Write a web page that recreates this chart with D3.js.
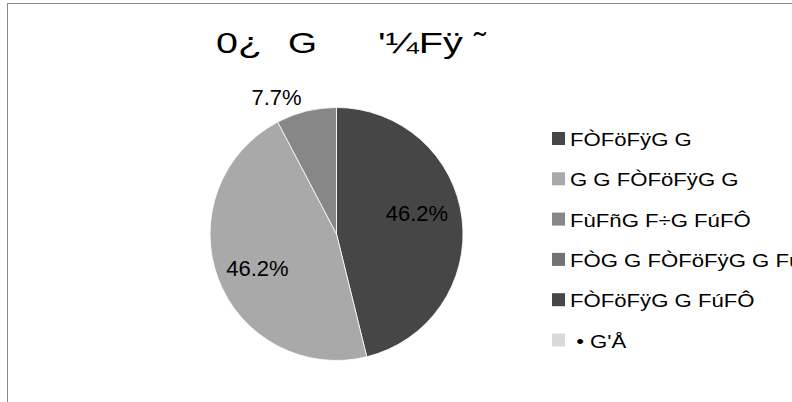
<!DOCTYPE html>
<html>
<head>
<meta charset="utf-8">
<script src="https://cdn.jsdelivr.net/npm/d3@7"></script>
<style>
  html, body { margin: 0; padding: 0; background: #fff; overflow: hidden; }
  svg { display: block; font-family: "Liberation Sans", Arial, sans-serif; }
</style>
</head>
<body>
<svg id="chart" width="792" height="402"></svg>
<script>
const titleParts = ["0\u00BF", "G", "'\u00BCF\u00FF", "\u02DC"];
const categories = [
  "F\u00D2F\u00F6F\u00FFG G",
  "G G F\u00D2F\u00F6F\u00FFG G",
  "F\u00F9F\u00F1G F\u00F7G F\u00FAF\u00D4",
  "F\u00D2G G F\u00D2F\u00F6F\u00FFG G F\u00FAF\u00D4",
  "F\u00D2F\u00F6F\u00FFG G F\u00FAF\u00D4",
  "\u00A0\u2022 G'\u00C5"
];
const values = [6, 6, 1, 0, 0, 0];
const colors = ["#464646", "#a9a9a9", "#878787", "#737373", "#464646", "#d9d9d9"];

const svg = d3.select("#chart");
const W = 792, H = 402;

// chart area border (extends past the right / bottom edges)
svg.append("rect")
  .attr("x", 7.5).attr("y", 3.5)
  .attr("width", W).attr("height", H)
  .attr("fill", "#fff").attr("stroke", "#8a8a8a").attr("stroke-width", 1);

// title (horizontally stretched like the reference)
const titleX = [216, 288, 378, 474];
const titleLen = [46, 29, 85, 12];
const t = svg.append("text")
  .attr("y", 53)
  .attr("font-size", 29)
  .attr("fill", "#000");
t.selectAll("tspan")
  .data(titleParts)
  .join("tspan")
  .attr("x", (d, i) => titleX[i])
  .attr("textLength", (d, i) => titleLen[i])
  .attr("lengthAdjust", "spacingAndGlyphs")
  .text(d => d);

// pie
const cx = 336.5, cy = 234, R = 126.5;
const total = d3.sum(values);
const pie = d3.pie().sort(null).value(d => d)(values);
const arc = d3.arc().innerRadius(0).outerRadius(R);
const g = svg.append("g").attr("transform", `translate(${cx},${cy})`);

g.selectAll("path.slice")
  .data(pie.filter(d => d.value > 0))
  .join("path")
  .attr("class", "slice")
  .attr("d", arc)
  .attr("fill", d => colors[d.index])
  .attr("stroke", "#fff")
  .attr("stroke-width", 0.8);

const fmt = v => (v / total * 100).toFixed(1) + "%";
g.selectAll("text.lbl")
  .data(pie.filter(d => d.value > 0))
  .join("text")
  .attr("class", "lbl")
  .attr("font-size", 22)
  .attr("text-anchor", "middle")
  .attr("fill", "#000")
  .each(function(d) {
    const share = d.value / total;
    const mid = (d.startAngle + d.endAngle) / 2;
    let r, a;
    if (share < 0.15) { r = 150; a = mid - 0.17; }
    else if (d.index === 0) { r = 83; a = mid - 0.13; }
    else { r = 86; a = mid - 0.04; }
    const x = r * Math.sin(a), y = -r * Math.cos(a);
    d3.select(this).attr("x", x).attr("y", y + 8);
  })
  .text(d => fmt(d.value));

// legend
const lg = svg.append("g");
const rowH = 40.3, y0 = 146, stretch = 1.23;
const rows = lg.selectAll("g.row")
  .data(categories)
  .join("g")
  .attr("class", "row")
  .attr("transform", (d, i) => `translate(552,${y0 + i * rowH})`);
rows.append("rect")
  .attr("x", 0).attr("y", -14)
  .attr("width", 13).attr("height", 13)
  .attr("fill", (d, i) => colors[i]);
rows.append("text")
  .attr("x", 18).attr("y", 0)
  .attr("font-size", 18)
  .attr("fill", "#000")
  .text(d => d)
  .each(function() {
    const len = this.getComputedTextLength();
    d3.select(this)
      .attr("textLength", len * stretch)
      .attr("lengthAdjust", "spacingAndGlyphs");
  });
</script>
</body>
</html>
